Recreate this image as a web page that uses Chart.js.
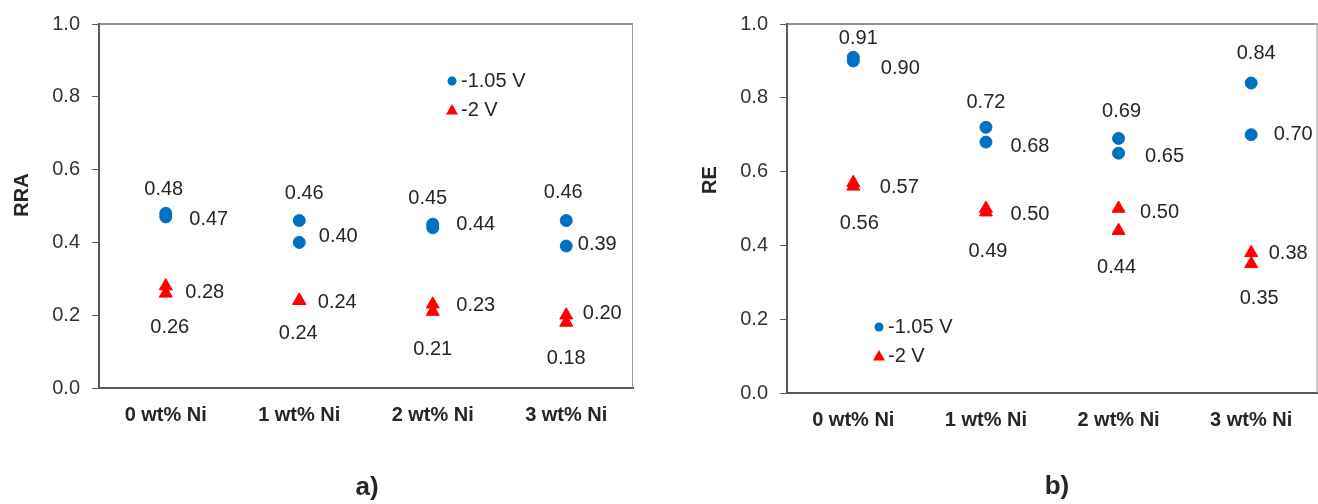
<!DOCTYPE html>
<html><head><meta charset="utf-8">
<script src="https://cdn.jsdelivr.net/npm/chart.js@4.4.1/dist/chart.umd.min.js"></script>
<style>
html,body{margin:0;padding:0;background:#fff;width:1318px;height:504px;overflow:hidden;position:relative}
#wa{position:absolute;left:0;top:0;width:660px;height:504px}
#wb{position:absolute;left:660px;top:0;width:666px;height:504px}
</style></head><body>
<div id="wa"><canvas id="ca" width="660" height="504"></canvas></div>
<div id="wb"><canvas id="cb" width="666" height="504"></canvas></div>
<script>
// ---- data ----
const categories = ['0 wt% Ni', '1 wt% Ni', '2 wt% Ni', '3 wt% Ni'];
const seriesNames = ['-1.05 V', '-2 V'];
const yTicks = [0, 0.2, 0.4, 0.6, 0.8, 1.0];

const rraNeg105A = [0.48, 0.46, 0.45, 0.46];
const rraNeg105B = [0.47, 0.40, 0.44, 0.39];
const rraNeg2A   = [0.28, 0.24, 0.23, 0.20];
const rraNeg2B   = [0.26, 0.24, 0.21, 0.18];

const reNeg105A = [0.91, 0.72, 0.69, 0.84];
const reNeg105B = [0.90, 0.68, 0.65, 0.70];
const reNeg2A   = [0.57, 0.50, 0.50, 0.38];
const reNeg2B   = [0.56, 0.49, 0.44, 0.35];

// ---- layout (label offsets from their point, in px) ----
const rraLabelOffsets = [
  [[-2,-24],[5,-27],[-5,-26],[-3,-28]],
  [[43,3],[39,-6],[43,-3],[31,-2]],
  [[39,6],[38,2],[43,1],[36,-2]],
  [[4,34],[-1,33],[0,38],[0,36]]
];
const reLabelOffsets = [
  [[5,-19],[0,-25],[3,-27],[5,-30]],
  [[47,8],[44,4],[46,3],[42,0]],
  [[46,5],[44,6],[41,4],[37,1]],
  [[6,37],[2,39],[-2,37],[8,35]]
];

const FONT = "'Liberation Sans', Arial, sans-serif";
const BLUE = '#0070C0';
const RED = '#FF0000';
const TEXT = '#262626';

const decor = {
  id: 'decor',
  afterDraw(chart, args, o) {
    const ctx = chart.ctx;
    const ca = chart.chartArea;
    ctx.save();
    // top and right border
    ctx.strokeStyle = '#6e6e6e';
    ctx.lineWidth = 1.5;
    ctx.beginPath();
    ctx.moveTo(ca.left, ca.top);
    ctx.lineTo(ca.right, ca.top);
    ctx.stroke();
    ctx.strokeStyle = '#9a9a9a';
    ctx.lineWidth = 1;
    ctx.beginPath();
    ctx.moveTo(ca.right - 0.5, ca.top);
    ctx.lineTo(ca.right - 0.5, ca.bottom);
    ctx.stroke();

    // data labels
    ctx.font = '20px ' + FONT;
    ctx.fillStyle = TEXT;
    ctx.textAlign = 'center';
    ctx.textBaseline = 'middle';
    chart.data.datasets.forEach((ds, i) => {
      const meta = chart.getDatasetMeta(i);
      meta.data.forEach((pt, j) => {
        const off = o.offsets[i][j];
        ctx.fillText(ds.data[j].toFixed(2), pt.x + off[0], pt.y + off[1]);
      });
    });

    // legend
    const lx = ca.left + o.legend[0], ly = ca.top + o.legend[1];
    ctx.fillStyle = BLUE;
    ctx.beginPath();
    ctx.arc(lx, ly, 4.5, 0, Math.PI * 2);
    ctx.fill();
    ctx.fillStyle = RED;
    const ty = ly + 29;
    ctx.beginPath();
    ctx.moveTo(lx, ty - 6);
    ctx.lineTo(lx + 6, ty + 4.5);
    ctx.lineTo(lx - 6, ty + 4.5);
    ctx.closePath();
    ctx.fill();
    ctx.fillStyle = TEXT;
    ctx.textAlign = 'left';
    ctx.fillText(chart.data.datasets[0].label, lx + 9, ly);
    ctx.fillText(chart.data.datasets[2].label, lx + 9, ty);

    // axis title
    ctx.font = 'bold 20px ' + FONT;
    ctx.save();
    ctx.translate(o.yTitle[0], o.yTitle[1]);
    ctx.rotate(-Math.PI / 2);
    ctx.textAlign = 'center';
    ctx.fillText(o.yTitleText, 0, 0);
    ctx.restore();

    // panel letter
    ctx.font = 'bold 26px ' + FONT;
    ctx.textAlign = 'center';
    ctx.fillText(o.panel, o.panelPos[0], o.panelPos[1]);
    ctx.restore();
  }
};

function ds(label, data, style, color, r) {
  return {
    label, data, showLine: false,
    pointStyle: style, pointRadius: r, pointHoverRadius: r,
    backgroundColor: color, borderColor: color,
    pointBackgroundColor: color, pointBorderColor: color, pointBorderWidth: 1
  };
}

function makeChart(id, cfg) {
  return new Chart(document.getElementById(id), {
    type: 'line',
    data: {
      labels: categories,
      datasets: [
        ds(seriesNames[0], cfg.a, 'circle', BLUE, 6),
        ds(seriesNames[0], cfg.b, 'circle', BLUE, 6),
        ds(seriesNames[1], cfg.c, 'triangle', RED, 7.5),
        ds(seriesNames[1], cfg.d, 'triangle', RED, 7.5)
      ]
    },
    options: {
      responsive: false, animation: false, devicePixelRatio: 1,
      layout: { padding: { left: 0, right: cfg.padRight, top: cfg.padTop, bottom: 0 } },
      plugins: {
        legend: { display: false }, tooltip: { enabled: false },
        decor: cfg.decor
      },
      scales: {
        x: {
          type: 'category', offset: true,
          grid: { display: false, drawTicks: false },
          border: { display: true, color: '#595959', width: 2 },
          ticks: { font: { family: FONT, size: 20, weight: 'bold' }, color: TEXT, padding: 15, maxRotation: 0 },
          afterFit: s => { s.height = cfg.xH; }
        },
        y: {
          min: 0, max: 1,
          afterBuildTicks: s => { s.ticks = yTicks.map(v => ({ value: v })); },
          grid: { drawOnChartArea: false, drawTicks: true, tickLength: 7, color: '#595959' },
          border: { display: true, color: '#595959', width: 2 },
          ticks: { font: { family: FONT, size: 20 }, color: '#333333', padding: 12, callback: v => Number(v).toFixed(1) },
          afterFit: s => { s.width = cfg.yW; }
        }
      }
    },
    plugins: [decor]
  });
}

makeChart('ca', {
  a: rraNeg105A, b: rraNeg105B, c: rraNeg2A, d: rraNeg2B,
  yW: 99, padRight: 27, padTop: 21, xH: 116,
  decor: { offsets: rraLabelOffsets, legend: [353, 57], yTitle: [22, 195], yTitleText: 'RRA', panel: 'a)', panelPos: [367, 488] }
});
makeChart('cb', {
  a: reNeg105A, b: reNeg105B, c: reNeg2A, d: reNeg2B,
  yW: 127, padRight: 1, padTop: 20, xH: 111,
  decor: { offsets: reLabelOffsets, legend: [92, 303], yTitle: [50, 180], yTitleText: 'RE', panel: 'b)', panelPos: [397, 487] }
});
</script>
</body></html>
